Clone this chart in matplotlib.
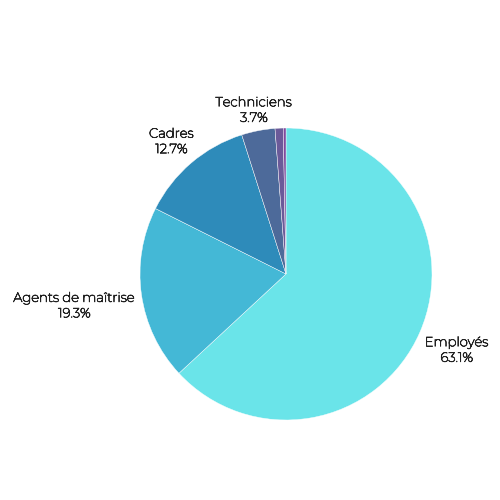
import matplotlib
matplotlib.use("Agg")
import matplotlib.pyplot as plt
import matplotlib.patheffects as pe
import numpy as np

categories = ["Employés", "Agents de maîtrise", "Cadres", "Techniciens", "Ouvriers", "Autres"]
values = [63.1, 19.3, 12.7, 3.7, 0.9, 0.3]
colors = ["#6ae4e9", "#44b8d6", "#2e8bba", "#4d6a9a", "#6b5a99", "#7e4a9e"]

plt.rcParams['font.family'] = ['Montserrat', 'Open Sans', 'DejaVu Sans']

fig = plt.figure(figsize=(5, 5), dpi=100)
cx, cy, r = 286 / 500, 1 - 274 / 500, 146 / 500
ax = fig.add_axes([cx - r, cy - r, 2 * r, 2 * r])
wedges, _ = ax.pie(values, colors=colors, startangle=90, counterclock=False,
                   radius=1, wedgeprops=dict(edgecolor="white", linewidth=0.3))
ax.set_xlim(-1, 1)
ax.set_ylim(-1, 1)
ax.set_aspect("equal")
ax.axis("off")

fig.canvas.draw()
renderer = fig.canvas.get_renderer()
px_per_unit = 146.0
gap = 1.035
txt_color = "#222222"
for w, name, v in zip(wedges, categories, values):
    if v < 1:
        continue
    ang = np.deg2rad((w.theta1 + w.theta2) / 2)
    d = np.array([np.cos(ang), np.sin(ang)])
    t = ax.text(0, 0, f"{name}\n{v}%", ha="center", va="center", fontsize=9.5,
                color=txt_color, linespacing=1.25, clip_on=False,
                path_effects=[pe.withStroke(linewidth=0.55, foreground=txt_color)])
    bb = t.get_window_extent(renderer)
    hw = bb.width / 2 / px_per_unit
    hh = bb.height / 2 / px_per_unit
    s = 1.0
    while True:
        c = d * s
        nx = np.clip(0, c[0] - hw, c[0] + hw)
        ny = np.clip(0, c[1] - hh, c[1] + hh)
        if np.hypot(nx, ny) >= gap:
            break
        s += 0.002
    t.set_position((c[0], c[1] - 2.0 / px_per_unit))

fig.savefig("out.png", dpi=100, facecolor="white")
